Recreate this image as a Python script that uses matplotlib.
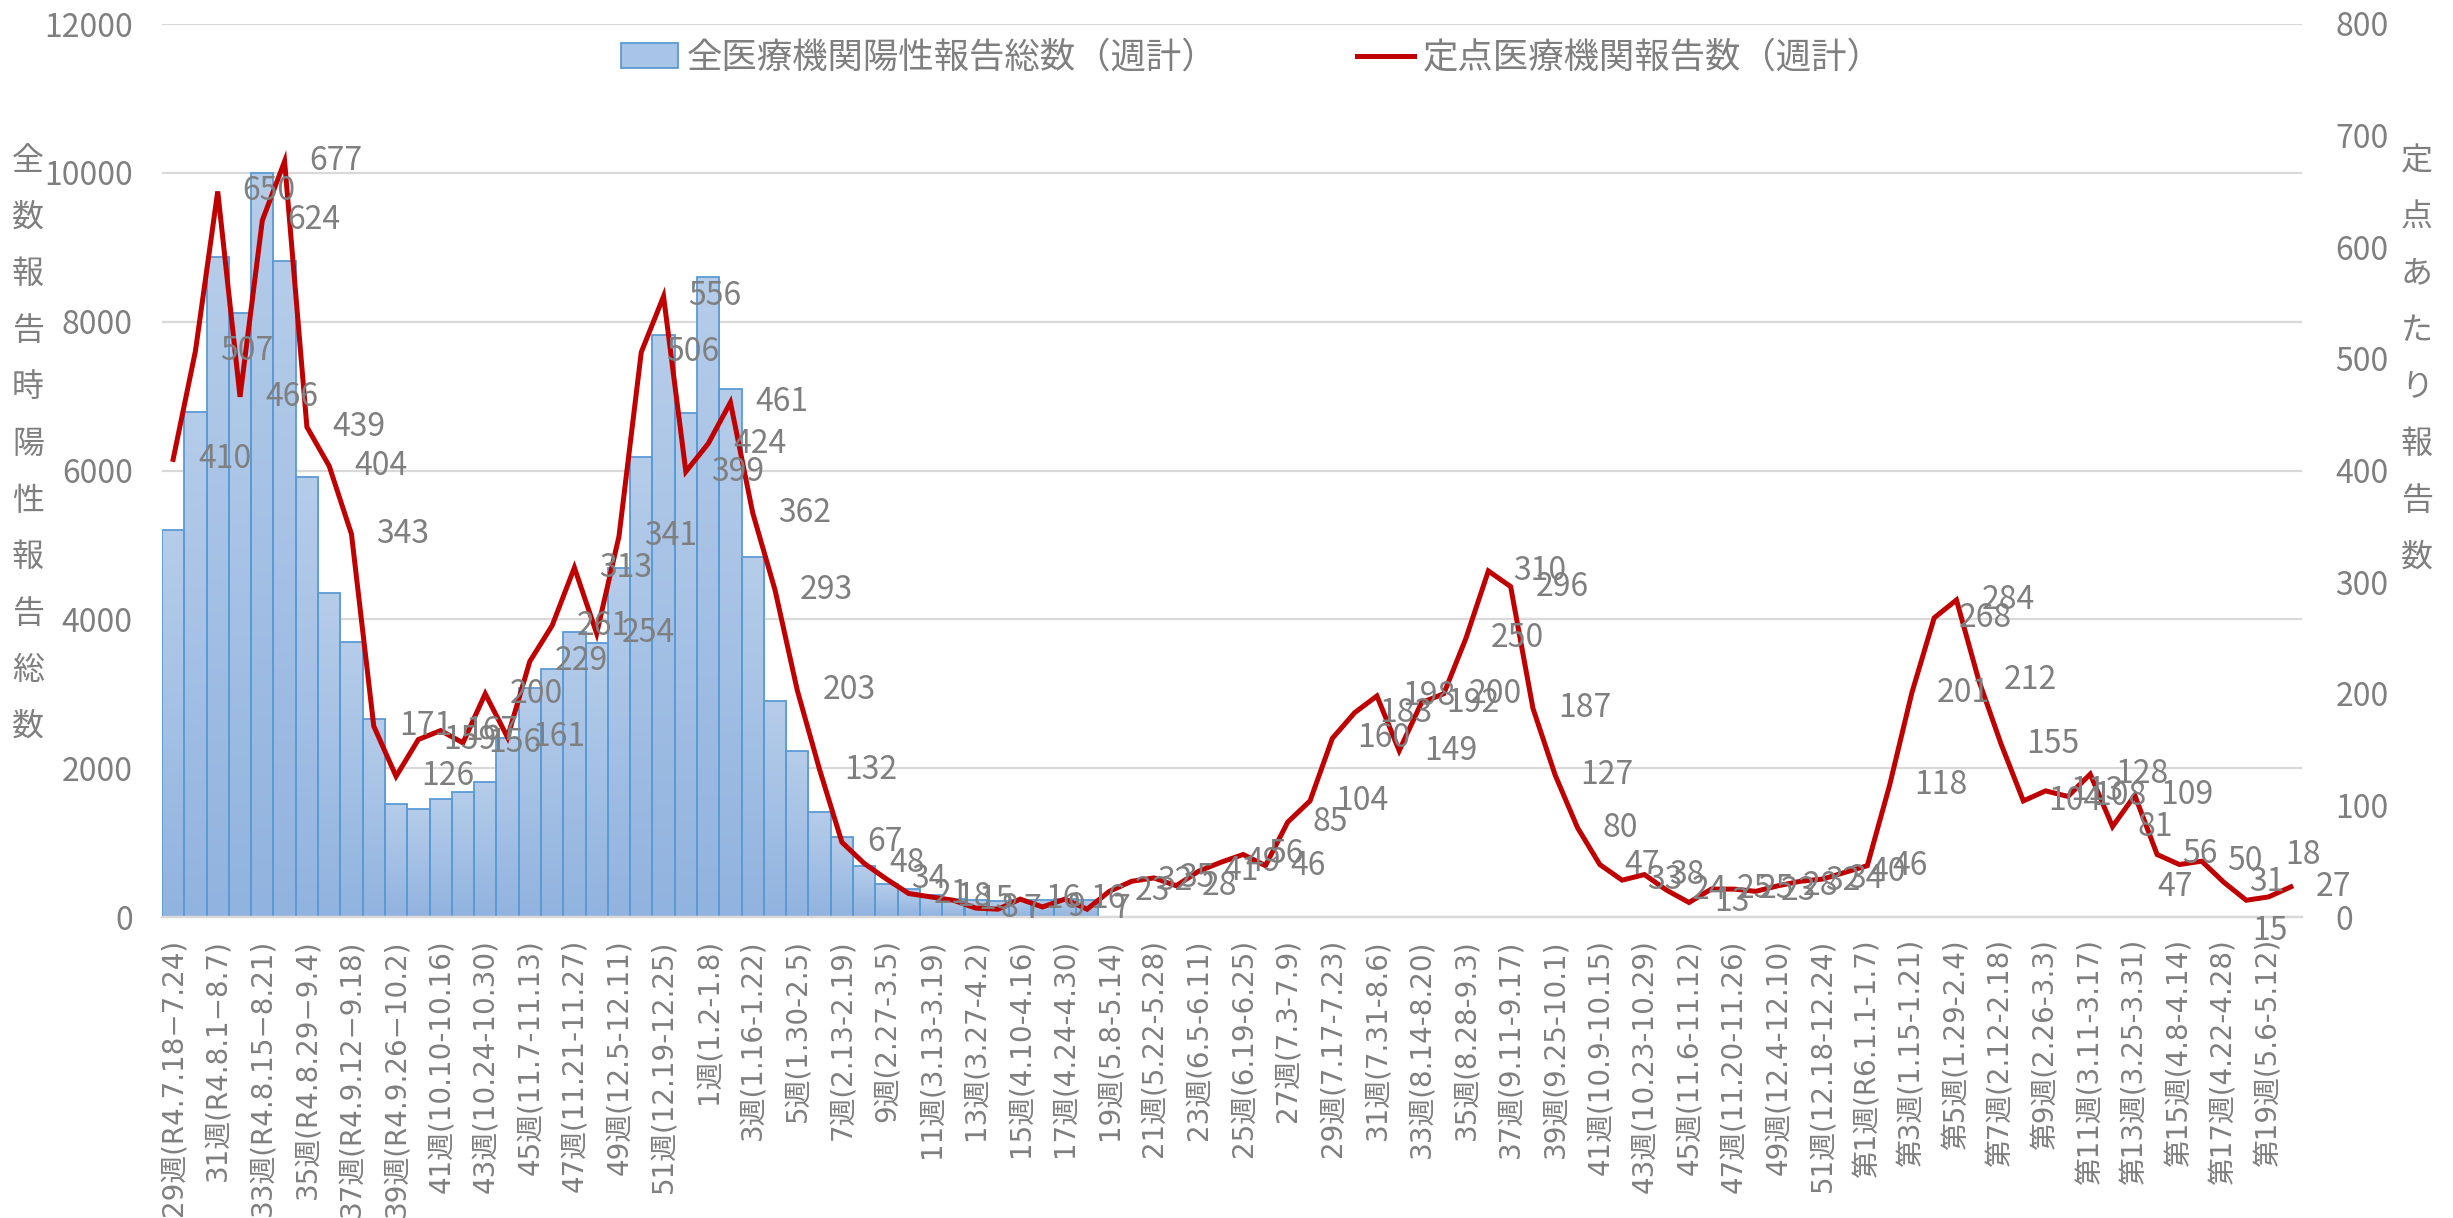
import matplotlib
matplotlib.use('Agg')
import matplotlib.pyplot as plt
import numpy as np
from matplotlib.colors import LinearSegmentedColormap
import matplotlib.patches as mpatches
from matplotlib.lines import Line2D

plt.rcParams['font.family'] = ['Noto Sans CJK JP', 'DejaVu Sans']

# 96 weeks: R4 wk29 .. R6 wk20 (labels on every other week)
tick_labels = [
    '29週(R4.7.18−7.24)', '31週(R4.8.1−8.7)', '33週(R4.8.15−8.21)', '35週(R4.8.29−9.4)',
    '37週(R4.9.12−9.18)', '39週(R4.9.26−10.2)', '41週(10.10-10.16)', '43週(10.24-10.30)',
    '45週(11.7-11.13)', '47週(11.21-11.27)', '49週(12.5-12.11)', '51週(12.19-12.25)',
    '1週(1.2-1.8)', '3週(1.16-1.22)', '5週(1.30-2.5)', '7週(2.13-2.19)', '9週(2.27-3.5)',
    '11週(3.13-3.19)', '13週(3.27-4.2)', '15週(4.10-4.16)', '17週(4.24-4.30)',
    '19週(5.8-5.14)', '21週(5.22-5.28)', '23週(6.5-6.11)', '25週(6.19-6.25)',
    '27週(7.3-7.9)', '29週(7.17-7.23)', '31週(7.31-8.6)', '33週(8.14-8.20)',
    '35週(8.28-9.3)', '37週(9.11-9.17)', '39週(9.25-10.1)', '41週(10.9-10.15)',
    '43週(10.23-10.29)', '45週(11.6-11.12)', '47週(11.20-11.26)', '49週(12.4-12.10)',
    '51週(12.18-12.24)', '第1週(R6.1.1-1.7)', '第3週(1.15-1.21)', '第5週(1.29-2.4)',
    '第7週(2.12-2.18)', '第9週(2.26-3.3)', '第11週(3.11-3.17)', '第13週(3.25-3.31)',
    '第15週(4.8-4.14)', '第17週(4.22-4.28)', '第19週(5.6-5.12)',
]

# all medical institutions, positive reports (weekly) - ends R5 wk18
all_reports = [5200, 6780, 8870, 8110, 10000, 8815, 5910, 4360, 3690, 2665,
               1520, 1450, 1580, 1675, 1820, 2400, 3075, 3330, 3825, 3680,
               4685, 6185, 7820, 6770, 8600, 7090, 4840, 2905, 2230, 1415,
               1070, 685, 440, 370, 295, 240, 225, 215, 230, 235, 240, 235]

# sentinel medical institutions reports (weekly)
sentinel = [410, 507, 650, 466, 624, 677, 439, 404, 343,
            171, 126, 159, 167, 156, 200, 161, 229, 261, 313, 254, 341,
            506, 556, 399, 424, 461, 362, 293, 203, 132,
            67, 48, 34, 21, 18, 15, 8, 7, 16, 9, 16, 7,
            23, 32, 35, 28, 41, 49, 56, 46,
            85, 104, 160, 183,
            198, 149, 192, 200, 250, 310, 296,
            187, 127, 80, 47, 33, 38, 24, 13, 25, 25, 23, 28, 32, 34, 40, 46,
            118, 201, 268, 284, 212, 155,
            104, 113, 108, 128, 81, 109, 56, 47, 50, 31, 15, 18, 27]

gray = '#7f7f7f'
W, H = 2453, 1218
fig = plt.figure(figsize=(W / 100, H / 100), dpi=100)
ax = fig.add_axes([162 / W, 1 - 917 / H, (2302 - 162) / W, (917 - 24) / H])
ax2 = ax.twinx()

x_all = np.arange(len(sentinel))
x_bar = np.arange(len(all_reports))

bars = ax.bar(x_bar, all_reports, width=1.0, color='#a8c4e6',
              edgecolor='#5b9bd5', linewidth=1.3, zorder=2)
# vertical gradient inside each bar
cmap = LinearSegmentedColormap.from_list('g', ['#91b3df', '#b6cdea'])
grad = np.linspace(0, 1, 256).reshape(-1, 1)
for b in bars:
    x0, w, h = b.get_x(), b.get_width(), b.get_height()
    im = ax.imshow(grad, extent=[x0, x0 + w, 0, h], origin='lower', aspect='auto',
                   cmap=cmap, zorder=2.1)
    im.set_clip_path(b)
    b.set_facecolor('none')
    b.set_zorder(2.2)

ax2.plot(x_all, sentinel, color='#c00000', linewidth=3.6, solid_joinstyle='miter', zorder=3)

# data labels, to the right of the points (a few moved as in the source)
moved = {90: (-16, -16), 93: (4, -22), 94: (12, 30)}
for i, v in enumerate(sentinel):
    dx, dy = moved.get(i, (18, 0))
    ax2.annotate(str(v), (i, v), xytext=(dx, dy), textcoords='offset points',
                 ha='left', va='center', fontsize=23, color=gray, zorder=4)

ax.set_xlim(-0.5, len(sentinel) - 0.5)
ax.set_ylim(0, 12000)
ax2.set_ylim(0, 800)
ax.set_yticks(range(0, 12001, 2000))
ax2.set_yticks(range(0, 801, 100))
ax.set_xticks(range(0, len(sentinel), 2))
ax.set_xticklabels(tick_labels, rotation=90, fontsize=20,
                   family=['DejaVu Sans', 'Noto Sans CJK JP'])

ax.yaxis.grid(True, color='#d9d9d9', linewidth=1.6)
ax.set_axisbelow(True)
for a in (ax, ax2):
    for s in ('top', 'left', 'right'):
        a.spines[s].set_visible(False)
    a.spines['bottom'].set_color('#d9d9d9')
    a.spines['bottom'].set_linewidth(1.6)
ax.tick_params(axis='x', length=0, pad=16, labelcolor=gray)
ax.tick_params(axis='y', length=0, pad=21, labelsize=23, labelcolor=gray)
ax2.tick_params(axis='y', length=0, pad=24, labelsize=23, labelcolor=gray)

# vertical (stacked) axis titles
for k, ch in enumerate('全数報告時陽性報告総数'):
    fig.text(28 / W, 1 - (161 + k * 56.6) / H, ch, ha='center', va='center',
             fontsize=23, color=gray)
for k, ch in enumerate('定点あたり報告数'):
    fig.text(2417 / W, 1 - (161 + k * 56.6) / H, ch, ha='center', va='center',
             fontsize=23, color=gray)

handles = [mpatches.Patch(facecolor='#a8c4e6', edgecolor='#5b9bd5', linewidth=1.3,
                          label='全医療機関陽性報告総数（週計）'),
           Line2D([0], [0], color='#c00000', linewidth=3.6, label='定点医療機関報告数（週計）')]
fig.legend(handles=handles, loc='center', bbox_to_anchor=(1252 / W, 1 - 58 / H), ncol=2,
           frameon=False, fontsize=25.5, labelcolor=gray, handlelength=1.6,
           handletextpad=0.25, columnspacing=3.95)

fig.savefig('out.png', dpi=100)
